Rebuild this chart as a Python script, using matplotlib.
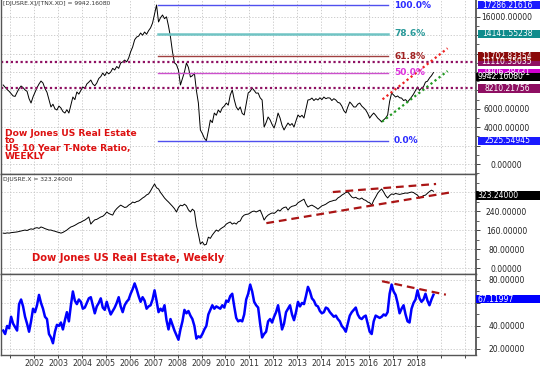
import numpy as np
import matplotlib.pyplot as plt
import matplotlib.transforms as mtransforms
from matplotlib.patches import Rectangle
from matplotlib.ticker import MultipleLocator

# --- data (roughly monthly samples) ---
ratio = [
    8590, 8350, 8100, 7900, 7650, 7400, 7350, 7800, 8200, 8480,
    8300, 8050, 7900, 7100, 6630, 7300, 7800, 8300, 8700, 9020,
    8800, 8200, 7800, 7000, 6200, 6500, 6000, 5870, 6300, 6090,
    5700, 5540, 5900, 5540, 6400, 7280, 7000, 7830, 7600, 8000,
    8370, 8200, 8700, 8900, 9130, 8700, 8500, 8800, 9300, 9500,
    9890, 9600, 10000, 9800, 10000, 10400, 10220, 10600, 10400, 10980,
    11100, 11300, 11100, 11520, 12200, 12720, 13500, 13800, 13900, 14240,
    14000, 14350, 14100, 14500, 14800, 15330, 16300, 17286, 15440, 15900,
    16200, 15800, 16000, 15000, 13800, 12200, 11000, 10800, 10200, 8590,
    9300, 10000, 10980, 10500, 9460, 9600, 9890, 8000, 6630, 3700,
    3300, 2800, 2525, 3600, 4780, 4500, 5540, 5300, 5870, 5600,
    6100, 6300, 6630, 6400, 7500, 8045, 7000, 6200, 5870, 6200,
    5500, 5330, 6500, 7720, 7900, 8260, 8000, 7700, 7720, 7200,
    6960, 4020, 4500, 5110, 4800, 4300, 3910, 4600, 5540, 5000,
    4200, 3700, 4100, 4460, 4200, 4400, 4020, 4700, 5330, 5100,
    5300, 5000, 6000, 6960, 7000, 7170, 6900, 7100, 6960, 7200,
    7000, 7280, 7100, 7200, 7170, 6900, 7100, 6960, 6700, 6630,
    6300, 5800, 5540, 6200, 6740, 6500, 6200, 6200, 6500, 6630,
    6300, 6100, 5870, 5500, 5000, 5300, 5540, 5300, 5000, 4800,
    4570, 4800, 5000, 5330, 6800, 7720, 7500, 7280, 7400, 7200,
    7170, 6900, 7000, 6740, 7000, 7280, 7600, 8000, 8370, 8000,
    8260, 8400, 8910, 9000, 9350, 9600, 9942.1608,
]

djusre = [
    147, 146, 148, 147, 149, 150, 151, 152, 154, 156,
    158, 160, 158, 162, 165, 163, 168, 170, 167, 173,
    170, 166, 163, 160, 160, 157, 155, 152, 150, 147,
    150, 155, 160, 167, 173, 176, 180, 185, 190, 193,
    198, 202, 208, 215, 185, 195, 203, 205, 210, 215,
    218, 225, 236, 230, 226, 223, 240, 250, 258, 265,
    260, 255, 257, 265, 270, 278, 275, 280, 282, 288,
    295, 300, 308, 312, 325, 340, 354, 338, 333, 318,
    307, 295, 286, 278, 269, 260, 250, 236, 255, 265,
    262, 269, 262, 245, 236, 248, 240, 180, 143, 101,
    110, 97, 100, 130, 125, 139, 150, 160, 155, 164,
    170, 175, 185, 190, 194, 185, 190, 185, 195, 198,
    215, 223, 226, 227, 232, 238, 240, 236, 240, 244,
    225, 202, 215, 223, 228, 232, 230, 236, 245, 240,
    250, 255, 257, 244, 255, 260, 262, 265, 275, 280,
    285, 290, 270, 257, 262, 265, 260, 255, 248, 255,
    262, 265, 269, 275, 280, 282, 285, 286, 295, 300,
    307, 312, 318, 320, 310, 299, 295, 298, 292, 290,
    295, 288, 285, 278, 275, 265, 285, 299, 315, 325,
    333, 320, 305, 295, 305, 312, 310, 314, 312, 310,
    312, 314, 316, 315, 318, 320, 318, 312, 307, 295,
    300, 305, 307, 315, 322, 328, 323.24,
]

rsi = [
    36, 33, 40, 38, 48, 42, 39, 36, 59, 63,
    57, 48, 42, 35, 44, 55, 52, 58, 67, 60,
    55, 48, 46, 33, 30, 25, 35, 41, 40, 43,
    37, 45, 52, 44, 58, 70, 62, 59, 63, 61,
    55, 56, 60, 64, 65, 58, 51, 57, 60, 64,
    56, 54, 61, 55, 50, 53, 56, 60, 65, 57,
    52, 58, 61, 63, 68, 72, 77, 72, 66, 61,
    65, 62, 55, 57, 58, 63, 71, 62, 52, 55,
    53, 58, 45, 37, 46, 41, 36, 32, 28, 37,
    44, 54, 51, 53, 49, 46, 40, 29, 31, 30,
    33, 37, 40, 50, 54, 58, 55, 57, 56, 55,
    58, 56, 62, 61, 66, 68, 57, 47, 44, 45,
    44, 50, 63, 68, 76, 70, 61, 58, 56, 42,
    30, 33, 35, 44, 46, 43, 48, 52, 58, 48,
    37, 42, 52, 55, 58, 50, 45, 52, 61, 57,
    60, 59, 66, 74, 70, 64, 62, 58, 57, 53,
    51, 52, 56, 55, 52, 50, 48, 49, 46, 44,
    40, 38, 35, 42, 49, 52, 54, 56, 50, 47,
    46, 48, 49, 42, 35, 33, 44, 49, 48, 47,
    48, 50, 49, 52, 68, 76, 70, 67, 60, 51,
    55, 58, 50, 44, 43, 55, 60, 63, 71, 64,
    61, 63, 68, 62, 58, 63, 67.11997,
]

fib_pct = ['100.0%', '78.6%', '61.8%', '50.0%', '0.0%']
fib_val = [17286.21616, 14141.55238, 11702.83354, 9905.88, 2525.54945]
fib_box = ['17286.21616', '14141.55238', '11702.83354', '9906.38731', '2525.54945']
fib_start, fib_end = 2007.16, 2016.8

level_val = [11110.35035, 8210.21756]
level_box = ['11110.35035', '8210.21756']

# trendlines: (x0, x1), (y0, y1)
ratio_red = ((2016.57, 2019.29), (7030, 12580))
ratio_green = ((2016.55, 2019.29), (4600, 10110))
dj_upper = ((2014.49, 2018.81), (320, 354))
dj_lower = ((2011.71, 2019.50), (189, 320))
rsi_line = ((2016.55, 2019.22), (78.9, 67.2))

year_ticks = list(range(2001, 2021))
year_labels = [str(y) if 2002 <= y <= 2018 else '' for y in year_ticks]

# right-axis ticks; labels hidden behind value boxes are left blank
ratio_ticks = list(range(0, 17000, 2000))
ratio_tick_lbl = ['0.00000', '', '4000.00000', '6000.00000', '', '', '', '', '16000.00000']
dj_ticks = [0, 80, 160, 240, 320]
dj_tick_lbl = ['0.00000', '80.00000', '160.00000', '240.00000', '']
rsi_ticks = [20, 40, 60, 80]
rsi_tick_lbl = ['20.00000', '40.00000', '', '80.00000']

# first sample ~ mid Sept 2000, monthly spacing
years = 2000.70 + np.arange(len(ratio)) / 12.0

W, H = 540, 376
fig = plt.figure(figsize=(W / 100, H / 100), dpi=100)
fig.patch.set_facecolor('white')

AX_L, AX_R = 1, 476
def make_ax(top_px, bot_px):
    return fig.add_axes([AX_L / W, 1 - bot_px / H, (AX_R - AX_L) / W, (bot_px - top_px) / H])

ax1 = make_ax(0, 174)
ax2 = make_ax(174, 273.5)
ax3 = make_ax(273.5, 354.5)

GRID = dict(color='#c4c4c4', linestyle=(0, (1.5, 2)), linewidth=0.6)

def style(ax, ylim, yticks, ylabels, minor):
    ax.set_xlim(2000.61, 2020.48)
    ax.set_ylim(*ylim)
    ax.set_yticks(yticks, labels=ylabels)
    ax.yaxis.set_minor_locator(MultipleLocator(minor))
    ax.yaxis.tick_right()
    ax.tick_params(axis='y', which='major', direction='out', length=3, width=0.7,
                   color='#444444', labelsize=5.5, labelcolor='#222222', pad=19)
    ax.tick_params(axis='y', which='minor', direction='out', length=2, width=0.6, color='#444444')
    for lbl in ax.get_yticklabels():
        lbl.set_horizontalalignment('center')
    ax.set_xticks(year_ticks)
    ax.grid(True, **GRID)
    ax.set_axisbelow(True)
    for side in ['left', 'right', 'top', 'bottom']:
        ax.spines[side].set_color('#555555')
        ax.spines[side].set_linewidth(1.0)
    ax.spines['right'].set_linewidth(1.3)

style(ax1, (-1087, 17830), ratio_ticks, ratio_tick_lbl, 1000)
style(ax2, (-23, 396), dj_ticks, dj_tick_lbl, 40)
style(ax3, (15.2, 85.6), rsi_ticks, rsi_tick_lbl, 10)
ax1.spines['top'].set_visible(False)

for ax in (ax1, ax2):
    ax.tick_params(axis='x', length=0, labelbottom=False)
ax3.set_xticklabels(year_labels)
ax3.tick_params(axis='x', direction='out', length=2.5, width=0.7, color='#444444',
                labelsize=5.7, labelcolor='#333333', pad=0.5)

# --- series ---
ax1.plot(years, ratio, color='black', lw=0.7)
ax2.plot(years, djusre, color='black', lw=0.7)
ax3.plot(years, rsi, color='#0000ff', lw=1.8)

# fibonacci levels
fib_line_col = ['#5050ee', '#70c4c4', '#a04040', '#cc4fcc', '#5050ee']
fib_txt_col = ['#2b2bff', '#2a9a9a', '#a02020', '#dd33dd', '#2b2bff']
fib_box_col = ['#1a1aff', '#108c8c', '#8b0a0a', '#cc00cc', '#1a1aff']
fib_lw = [1.0, 1.8, 1.0, 1.0, 1.0]
for p, v, lc, tc, lw in zip(fib_pct, fib_val, fib_line_col, fib_txt_col, fib_lw):
    ax1.plot([fib_start, fib_end], [v, v], color=lc, lw=lw)
    ax1.text(fib_end + 0.25, v, p, color=tc, fontsize=6.5, fontweight='bold',
             va='center', ha='left')

LEVEL_COL = '#8e0f62'
for v in level_val:
    ax1.axhline(v, color=LEVEL_COL, lw=1.6, linestyle=(0, (1, 1.2)))

ax1.plot(*ratio_red, color='#ee2222', lw=1.6, linestyle=(0, (1, 1.3)))
ax1.plot(*ratio_green, color='#229922', lw=1.6, linestyle=(0, (1, 1.3)))
for ax, ln in ((ax2, dj_upper), (ax2, dj_lower), (ax3, rsi_line)):
    ax.plot(*ln, color='#aa1515', lw=1.6, linestyle=(0, (3.5, 2.2)))

# --- right-axis value boxes ---
AXW = AX_R - AX_L

def value_box(ax, v, text, color, current=False):
    y0, y1 = ax.get_ylim()
    hpx = ax.get_position().height * H
    h = (y1 - y0) * 8.5 / hpx
    bottom = v - h if current else v - h / 2
    tr = mtransforms.blended_transform_factory(ax.transAxes, ax.transData)
    x0 = 1.0 if current else 1.0 + 2 / AXW
    ax.add_patch(Rectangle((x0, bottom), (W - AX_R) / AXW + 0.01, h, transform=tr,
                           facecolor=color, edgecolor='none', clip_on=False, zorder=5))
    if current:
        ax.text(1.0 + 1.5 / AXW, bottom + h / 2, text, transform=tr, color='white',
                fontsize=5.5, ha='left', va='center', zorder=6, clip_on=False)
    else:
        ax.text(1.0 + 31 / AXW, bottom + h / 2, text, transform=tr, color='white',
                fontsize=5.5, ha='center', va='center', zorder=6, clip_on=False)

value_box(ax1, fib_val[0], fib_box[0], fib_box_col[0])
value_box(ax1, fib_val[1], fib_box[1], fib_box_col[1])
value_box(ax1, level_val[0], level_box[0], LEVEL_COL)
value_box(ax1, fib_val[2], fib_box[2], fib_box_col[2])
value_box(ax1, fib_val[3], fib_box[3], fib_box_col[3])
value_box(ax1, ratio[-1], '%.5f' % ratio[-1], 'black', current=True)
value_box(ax1, level_val[1], level_box[1], LEVEL_COL)
value_box(ax1, fib_val[4], fib_box[4], fib_box_col[4])
value_box(ax2, djusre[-1], '%.5f' % djusre[-1], 'black', current=True)
value_box(ax3, rsi[-1], '%.5f' % rsi[-1], '#0000ff', current=True)

# --- annotations ---
def ftext(x, y, s, **kw):
    fig.text(x / W, 1 - y / H, s, **kw)

ftext(3, 4, '[DJUSRE.X]/[TNX.XO] = 9942.16080', fontsize=4.3, color='#333333', va='center')
ftext(3, 179, 'DJUSRE.X = 323.24000', fontsize=4.3, color='#333333', va='center')

RED = dict(color='#dd1111', fontweight='bold', ha='left')
ftext(5, 128.5, 'Dow Jones US Real Estate\nto\nUS 10 Year T-Note Ratio,\nWEEKLY',
      va='top', linespacing=0.82, fontsize=6.6, **RED)
ftext(32, 258, 'Dow Jones US Real Estate, Weekly', va='center', fontsize=7.2, **RED)

fig.savefig('out.png', dpi=100)
